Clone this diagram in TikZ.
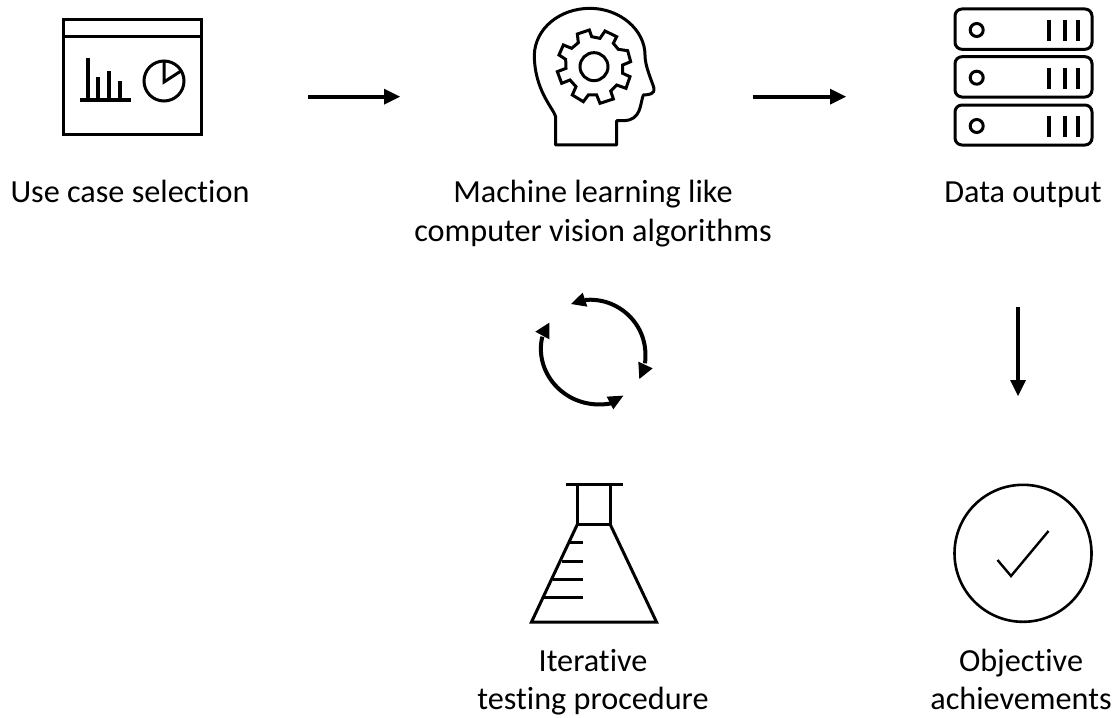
\documentclass[tikz,border=0pt]{standalone}
\usepackage{fontspec}
\setmainfont[RawFeature={-liga}]{Carlito}
\begin{document}
\begin{tikzpicture}[x=1pt,y=-1pt,
  icon/.style={draw=black,line width=3pt,line join=miter},
  lbl/.style={font=\fontsize{32.2}{39}\selectfont,align=center,inner sep=0pt,text=black,anchor=north},
  flow/.style={draw=black,line width=4pt},
  tip/.style={fill=black,draw=none}]
\useasboundingbox (0,0) rectangle (1115,717);
% window icon
\draw[icon] (63,20) rectangle (201,134);
\draw[icon] (63,37) -- (201,37);
\draw[icon,line width=3.2pt] (80,100) -- (131,100);
\foreach \x/\t in {88/58,98/77,109/71,120/81} \draw[icon,line width=3.2pt] (\x,100) -- (\x,\t);
\draw[icon] (164,81) circle (20);
\draw[icon] (164,61) -- (164,82) -- (181,71);
% head and gear, in 3x crop coordinates
\begin{scope}[shift={(510,0)},x=0.3333pt,y=-0.3333pt]
\draw[icon,line join=round] (137,435) -- (137,350) .. controls (130,325) and (73,270) .. (73,165)
  .. controls (75,85) and (150,25) .. (240,25)
  .. controls (330,25) and (405,90) .. (405,165)
  .. controls (405,200) and (425,240) .. (432,265)
  .. controls (435,280) and (420,285) .. (400,285)
  .. controls (390,310) and (395,362) .. (340,362)
  -- (320,362) -- (320,435) -- cycle;
\end{scope}
\begin{scope}[shift={(545,20)},x=0.3333pt,y=-0.3333pt]
\draw[icon] (97,42) -- (133,30) -- (140,50) -- (165,55) -- (180,33) -- (215,50) -- (205,70) -- (220,88) -- (248,92) -- (257,125) -- (233,135) -- (233,160) -- (255,170) -- (243,205) -- (215,195) -- (197,213) -- (205,237) -- (165,250) -- (155,225) -- (130,225) -- (115,245) -- (82,225) -- (93,200) -- (75,180) -- (50,190) -- (37,155) -- (63,145) -- (62,118) -- (42,105) -- (55,75) -- (80,85) -- (100,68) -- cycle;
\draw[icon] (147,140) circle (14pt);
\end{scope}
% server
\foreach \y/\h in {9/40.3,56.7/40.3,105/40} {
  \draw[icon,rounded corners=7pt] (955,\y) rectangle (1092,\y+\h);
  \draw[icon] (976.7,\y+21) circle (6.5);
  \foreach \x in {1049,1065,1078} \draw[icon,line width=3.5pt] (\x,\y+11) -- (\x,\y+32);
}
% flask
\draw[icon] (565.5,484.5) -- (622.5,484.5);
\draw[icon] (577.5,484.5) -- (577.5,524) -- (610,524) -- (610,484.5);
\draw[icon] (577.5,524) -- (531.5,622) -- (656.5,622) -- (610,524);
\foreach \y/\x in {542.7/570,561/561.7,579.3/553.3,597.7/544.3} \draw[icon] (\x,\y) -- (582.5,\y);
% check
\draw[icon,line width=2.6pt] (1023,553.3) circle (68.5);
\draw[icon,line width=2.4pt] (997.5,560) -- (1011,576) -- (1048.5,531);
% cycle
\begin{scope}[shift={(510,280)},x=0.3333pt,y=-0.3333pt]
\draw[flow] (225,60) .. controls (320,50) and (420,130) .. (405,250);
\fill[tip] (218,38) -- (183,72) -- (232,80) -- cycle;
\fill[tip] (428,265) -- (388,297) -- (385,245) -- cycle;
\draw[flow] (97,170) .. controls (70,280) and (170,395) .. (305,370);
\fill[tip] (340,347) -- (310,388) -- (290,350) -- cycle;
\fill[tip] (118,128) -- (76,155) -- (118,178) -- cycle;
\end{scope}
% flow arrows
\coordinate (a1) at (308,96.7);\coordinate (a2) at (386,96.7);
\draw[flow] (a1) -- (a2);
\fill[tip] (400,96.7) -- (384,88.7) -- (384,104.7) -- cycle;
\coordinate (b1) at (753,96.7);\coordinate (b2) at (831,96.7);
\draw[flow] (b1) -- (b2);
\fill[tip] (846,96.7) -- (830,88.7) -- (830,104.7) -- cycle;
\coordinate (c1) at (1018,307);\coordinate (c2) at (1018,382);
\draw[draw=black,line width=3.5pt] (c1) -- (c2);
\fill[tip] (1018,396) -- (1010,380) -- (1026,380) -- cycle;
% labels
\node[lbl] (t1) at (130,178) {\rule{0pt}{24pt}Use case selection};
\node[lbl] (t2) at (593,178) {\rule{0pt}{24pt}Machine learning like\\computer vision algorithms};
\node[lbl] (t3) at (1023,178) {\rule{0pt}{24pt}Data output};
\node[lbl] (t4) at (593,647) {\rule{0pt}{24pt}Iterative\\[-1pt]testing procedure};
\node[lbl] (t5) at (1021,647) {\rule{0pt}{24pt}Objective\\[-1pt]achievements};
\end{tikzpicture}
\end{document}
